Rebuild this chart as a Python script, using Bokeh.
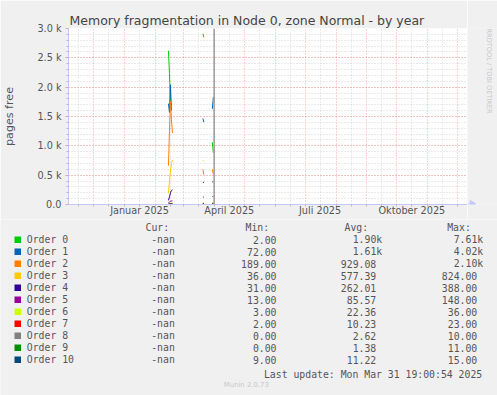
import math
import pandas as pd
from bokeh.plotting import figure
from bokeh.layouts import column, row
from bokeh.models import FixedTicker, Span, Range1d
from bokeh.core.properties import value
from bokeh.embed import file_html
from bokeh.resources import INLINE

nan = float("nan")

# ---------------- data ----------------
times = ["2025-02-14 00:00", "2025-02-15 00:00", "2025-02-16 00:00", "2025-02-17 00:00",
         "2025-02-18 00:00", "2025-02-19 00:00",
         "2025-03-20 12:00", "2025-03-21 12:00", "2025-03-22 12:00",
         "2025-03-30 00:00", "2025-03-31 00:00"]

order0 = [2620, 2230, 1740, 1700, nan, nan, 2910, 2850, nan, 1060, 880]
order1 = [1720, 1570, 2040, 1600, nan, nan, 1466, 1403, nan, 1630, 1830]
order2 = [660, 1250, 1760, 1450, 1220, nan, 597, 511, nan, 590, 520]
order3 = [190, 400, 570, 700, 760, nan, 750, 745, nan, 600, 580]
order4 = [70, 130, 200, 240, 250, nan, 380, 375, nan, 385, 388]
order5 = [25, 45, 55, 60, 60, nan, 125, 128, nan, 135, 140]
order6 = [12, 20, 25, 28, 30, nan, 32, 33, nan, 35, 36]
order7 = [5, 8, 10, 12, 12, nan, 18, 20, nan, 20, 22]
order8 = [0, 2, 3, 4, 4, nan, 6, 8, nan, 8, 10]
order9 = [0, 1, 2, 2, 3, nan, 7, 9, nan, 10, 11]
order10 = [10, 11, 12, 12, 13, nan, 12, 12, nan, 13, 14]

series_names = ["Order 0", "Order 1", "Order 2", "Order 3", "Order 4", "Order 5",
                "Order 6", "Order 7", "Order 8", "Order 9", "Order 10"]
series_values = [order0, order1, order2, order3, order4, order5, order6, order7, order8, order9, order10]
series_colors = ["#00CC00", "#0066B3", "#FF8000", "#FFCC00", "#330099", "#990099",
                 "#CCFF00", "#FF0000", "#808080", "#008F00", "#00487D"]

cur_vals = ["-nan"] * 11
min_vals = ["2.00", "72.00", "189.00", "36.00", "31.00", "13.00", "3.00", "2.00", "0.00", "0.00", "9.00"]
avg_vals = ["1.90k", "1.61k", "929.08", "577.39", "262.01", "85.57", "22.36", "10.23", "2.62", "1.38", "11.22"]
max_vals = ["7.61k", "4.02k", "2.10k", "824.00", "388.00", "148.00", "36.00", "23.00", "10.00", "11.00", "15.00"]
col_headers = ["Cur:", "Min:", "Avg:", "Max:"]

y_ticks = [0, 500, 1000, 1500, 2000, 2500, 3000]
y_tick_labels = ["0.0", "0.5 k", "1.0 k", "1.5 k", "2.0 k", "2.5 k", "3.0 k"]
x_label_dates = ["2025-01-16", "2025-04-16", "2025-07-16", "2025-10-16"]
x_tick_labels = ["Januar 2025", "April 2025", "Juli 2025", "Oktober 2025"]

title_text = "Memory fragmentation in Node 0, zone Normal - by year"
y_axis_label = "pages free"
watermark = "RRDTOOL / TOBI OETIKER"
last_update = "Last update: Mon Mar 31 19:00:54 2025"
footer = "Munin 2.0.73"
last_update_time = "2025-03-31 19:00:54"
range_start = "2024-11-05 19:00"
range_end = "2025-12-10 19:00"

# ---------------- helpers ----------------
def ms(t):
    return pd.Timestamp(t).value / 1e6

SANS = "DejaVu Sans"
MONO = "DejaVu Sans Mono"
TXT = "#555555"
BG = "#F0F0F0"
AX = "#C4C8F8"
W = 497
MAIN_W = 467
TOP_H = 219
FRAME_TOP, FRAME_BOTTOM = 28, 204

# ---------------- main chart ----------------
p = figure(width=MAIN_W, height=TOP_H, x_axis_type="datetime", output_backend="svg",
           toolbar_location=None, x_range=Range1d(ms(range_start), ms(range_end)),
           y_range=Range1d(0, 3000), min_border_left=66, min_border_right=0,
           min_border_top=FRAME_TOP, min_border_bottom=TOP_H - FRAME_BOTTOM, title=title_text)
p.background_fill_color = "#FFFFFF"
p.border_fill_color = BG
p.outline_line_color = None

p.title.text_font = SANS
p.title.text_font_size = "12.5px"
p.title.text_font_style = "normal"
p.title.text_color = "#444444"
p.title.align = "left"
p.title.offset = 1
p.title.standoff = 1

month_starts = [ms(t) for t in pd.date_range("2024-11-01", "2025-12-01", freq="MS")]
mid_months = [ms(t + pd.Timedelta(days=15)) for t in pd.date_range("2024-11-01", "2025-12-01", freq="MS")]
p.xgrid.ticker = FixedTicker(ticks=month_starts, minor_ticks=mid_months)
p.ygrid.ticker = FixedTicker(ticks=y_ticks, minor_ticks=list(range(0, 3001, 100)))
for g in (p.xgrid, p.ygrid):
    g.grid_line_color = "#FF0000"
    g.grid_line_alpha = 0.35
    g.grid_line_dash = "1 2"
    g.minor_grid_line_color = "#BBBBBB"
    g.minor_grid_line_alpha = 0.6
    g.minor_grid_line_dash = "1 2"

xa = p.xaxis[0]
xa.ticker = FixedTicker(ticks=[ms(d) for d in x_label_dates], minor_ticks=month_starts + mid_months)
xa.major_label_overrides = {ms(d): lab for d, lab in zip(x_label_dates, x_tick_labels)}
ya = p.yaxis[0]
ya.ticker = FixedTicker(ticks=y_ticks, minor_ticks=list(range(0, 3001, 100)))
ya.major_label_overrides = {t: lab for t, lab in zip(y_ticks, y_tick_labels)}
for a in (xa, ya):
    a.axis_line_color = AX
    a.major_tick_line_color = "#E0A0A0"
    a.minor_tick_line_color = "#BBBBBB"
    a.major_label_text_font = SANS
    a.major_label_text_font_size = "9.7px"
    a.major_label_text_color = TXT
    a.minor_tick_in = 0
    a.major_tick_in = 0
xa.major_tick_out = 2
xa.minor_tick_out = 2
xa.major_label_standoff = -2
ya.major_tick_out = 3
ya.minor_tick_out = 2
ya.major_label_standoff = 4
ya.axis_label = y_axis_label
ya.axis_label_text_font = SANS
ya.axis_label_text_font_size = "11.1px"
ya.axis_label_text_font_style = "normal"
ya.axis_label_text_color = TXT
ya.axis_label_standoff = 18

xs = pd.to_datetime(times, format="%Y-%m-%d %H:%M")
for vals, col in zip(series_values, series_colors):
    p.line(x=xs, y=vals, line_color=col, line_width=1)

p.add_layout(Span(location=ms(last_update_time), dimension="height",
                  line_color="#9A9A9A", line_width=1.5))

# ---------------- right strip (frame aligned with main frame; page pixel coords) ----------------
rf = figure(width=W - MAIN_W, height=TOP_H, output_backend="svg", toolbar_location=None,
            x_range=Range1d(MAIN_W, W), y_range=Range1d(FRAME_BOTTOM, FRAME_TOP),
            min_border_left=0, min_border_right=0, min_border_top=FRAME_TOP,
            min_border_bottom=TOP_H - FRAME_BOTTOM)
rf.axis.visible = False
rf.grid.visible = False
rf.outline_line_color = None
rf.background_fill_color = BG
rf.border_fill_color = BG
rf.segment(x0=[MAIN_W], y0=[203.5], x1=[469.5], y1=[203.5], line_color=AX, line_width=1)
rf.scatter(x=[471.5], y=[203.2], marker="triangle", size=6.5, angle=-math.pi / 2,
           fill_color=AX, line_color=AX)
rf.text(x=[488], y=[70.5], text=[watermark], angle=-math.pi / 2, text_font=value(SANS),
        text_font_size=value("6.6px"), text_color="#C8C8C8", text_align="center",
        text_baseline="middle")

# ---------------- legend area (pixel coordinates, y downward) ----------------
lg = figure(width=W, height=395 - TOP_H, output_backend="svg", toolbar_location=None,
            x_range=Range1d(0, W), y_range=Range1d(395, TOP_H),
            min_border_left=0, min_border_right=0, min_border_top=0, min_border_bottom=0)
lg.axis.visible = False
lg.grid.visible = False
lg.outline_line_color = None
lg.background_fill_color = BG
lg.border_fill_color = BG

CW = 5.95
LS = "9.8px"
row_y = [239.3 + 12 * i for i in range(len(series_names))]

def rx(right, vals):
    return [right if s.endswith("k") else right - CW for s in vals]

lg.text(x=[145, 245, 344, 446.7], y=[227.3] * 4, text=col_headers, text_font=value(MONO),
        text_font_size=value(LS), text_color=TXT, text_baseline="middle", text_align="left")
lg.quad(left=[14] * 11, right=[20.5] * 11, top=[y - 3.2 for y in row_y],
        bottom=[y + 3.3 for y in row_y], fill_color=series_colors, line_color=None)
lg.text(x=[26.3] * 11, y=row_y, text=series_names, text_font=value(MONO),
        text_font_size=value(LS), text_color=TXT, text_baseline="middle", text_align="left")
for right, vals in ((174.3, cur_vals), (276.0, min_vals)):
    lg.text(x=[right] * 11, y=row_y, text=vals, text_font=value(MONO), text_font_size=value(LS),
            text_color=TXT, text_baseline="middle", text_align="right")
for right, vals in ((381.7, avg_vals), (482.7, max_vals)):
    lg.text(x=rx(right, vals), y=row_y, text=vals, text_font=value(MONO), text_font_size=value(LS),
            text_color=TXT, text_baseline="middle", text_align="right")
lg.text(x=[481.7], y=[374.3], text=[last_update], text_font=value(MONO), text_font_size=value(LS),
        text_color=TXT, text_baseline="middle", text_align="right")
lg.text(x=[245.8], y=[384.3], text=[footer], text_font=value(SANS), text_font_size=value("6.9px"),
        text_color="#C8C8C8", text_baseline="middle", text_align="center")

layout = column(row(p, rf, spacing=0), lg, spacing=0)
open("out.html", "w").write(file_html(layout, INLINE))
